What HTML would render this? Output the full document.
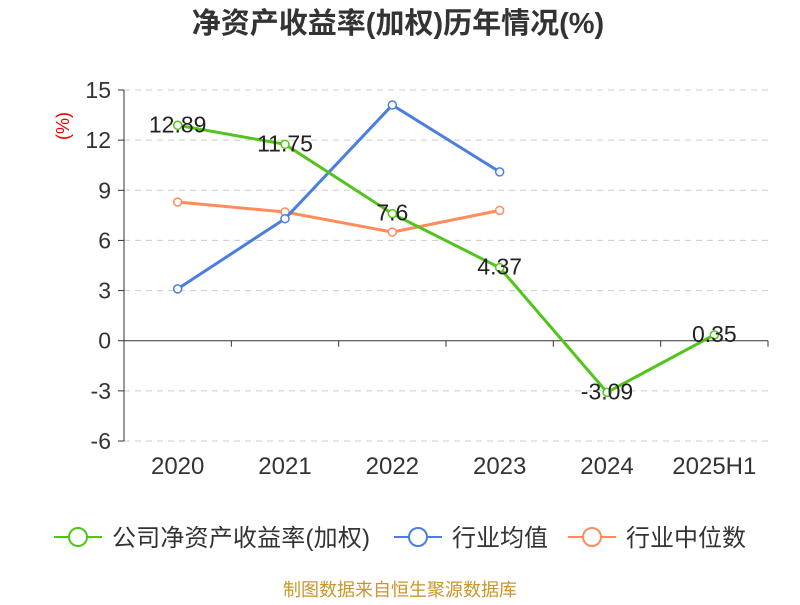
<!DOCTYPE html>
<html><head><meta charset="utf-8"><style>
body{margin:0;background:#fff;}
svg text{font-family:"Liberation Sans","Noto Sans CJK SC",sans-serif;}
</style></head><body>
<svg id="chart" width="800" height="600" xmlns="http://www.w3.org/2000/svg">
<text x="398" y="33" text-anchor="middle" font-size="29" font-weight="bold" fill="#333">净资产收益率(加权)历年情况(%)</text>
<text transform="translate(69,126) rotate(-90)" text-anchor="middle" font-size="18" fill="#e00">(%)</text>
<g id="grid"></g><g id="axes"></g><g id="series"></g>
<g>
<g><line x1="54" y1="537" x2="102" y2="537" stroke="#52c41a" stroke-width="2"/><circle cx="78" cy="537" r="9" fill="#fff" stroke="#52c41a" stroke-width="2"/><text x="112" y="546" font-size="24" fill="#333" textLength="258">公司净资产收益率(加权)</text></g>
<g><line x1="394" y1="537" x2="442" y2="537" stroke="#4a7fdf" stroke-width="2"/><circle cx="418" cy="537" r="9" fill="#fff" stroke="#4a7fdf" stroke-width="2"/><text x="452" y="546" font-size="24" fill="#333">行业均值</text></g>
<g><line x1="568" y1="537" x2="616" y2="537" stroke="#ff8c5a" stroke-width="2"/><circle cx="592" cy="537" r="9" fill="#fff" stroke="#ff8c5a" stroke-width="2"/><text x="626" y="546" font-size="24" fill="#333">行业中位数</text></g>
</g>
<text x="400" y="596" text-anchor="middle" font-size="18" fill="#c8962a">制图数据来自恒生聚源数据库</text>
</svg>
<script>
const categories=["2020","2021","2022","2023","2024","2025H1"];
const companyValues=[12.89,11.75,7.6,4.37,-3.09,0.35];
const avgValues=[3.1,7.3,14.1,10.1,null,null];
const medianValues=[8.3,7.7,6.5,7.8,null,null];
const yTicks=[-6,-3,0,3,6,9,12,15];
const NS="http://www.w3.org/2000/svg";
const x0=124,x1=768,yTop=90,yBot=441,yMin=-6,yMax=15;
const bw=(x1-x0)/categories.length;
const X=i=>x0+bw*(i+0.5);
const Y=v=>yBot-(v-yMin)/(yMax-yMin)*(yBot-yTop);
function mk(tag,attrs,parent,txt){const e=document.createElementNS(NS,tag);for(const k in attrs)e.setAttribute(k,attrs[k]);if(txt!=null)e.textContent=txt;parent.appendChild(e);return e;}
const grid=document.getElementById('grid'),axes=document.getElementById('axes'),series=document.getElementById('series');
yTicks.forEach(t=>{
 if(t!==0){const l=mk('line',{x1:x0,x2:x1,y1:Y(t),y2:Y(t),stroke:'#ccc','stroke-dasharray':'6,5'},grid);
 
 }
 const tk=mk('line',{x1:x0-6,x2:x0,y1:Y(t),y2:Y(t),stroke:'#333'},axes);
 
 
 const tx=mk('text',{x:x0-13,y:Y(t)+8,'text-anchor':'end','font-size':'23',fill:'#333'},axes,String(t));
 
 
});
const ya=mk('line',{x1:x0,x2:x0,y1:yTop,y2:yBot,stroke:'#333'},axes);


const xa=mk('line',{x1:x0,x2:x1,y1:Y(0),y2:Y(0),stroke:'#333'},axes);


for(let i=0;i<=categories.length;i++){const t=mk('line',{x1:x0+bw*i,x2:x0+bw*i,y1:Y(0),y2:Y(0)+6,stroke:'#333'},axes);
 
 }
categories.forEach((c,i)=>{const t=mk('text',{x:X(i),y:474,'text-anchor':'middle','font-size':'24',fill:'#333'},axes,c);
 
 });
function draw(vals,color,name,labels){
 const pts=vals.map((v,i)=>v==null?null:[X(i),Y(v)]).filter(p=>p);
 const pl=mk('polyline',{points:pts.map(p=>p.join(',')).join(' '),fill:'none',stroke:color,'stroke-width':3},series);
 
 
 vals.forEach((v,i)=>{if(v==null)return;
  const c=mk('circle',{cx:X(i),cy:Y(v),r:4,fill:'#fff',stroke:color,'stroke-width':1.5},series);
  
  
  if(labels){const t=mk('text',{x:X(i),y:Y(v)+7,'text-anchor':'middle','font-size':'23',fill:'#222'},series,String(v));
   
   }
 });
}
draw(medianValues,'#ff8c5a','industry-median',false);
draw(avgValues,'#4a7fdf','industry-avg',false);
draw(companyValues,'#52c41a','company-roe',true);
</script>
</body></html>
